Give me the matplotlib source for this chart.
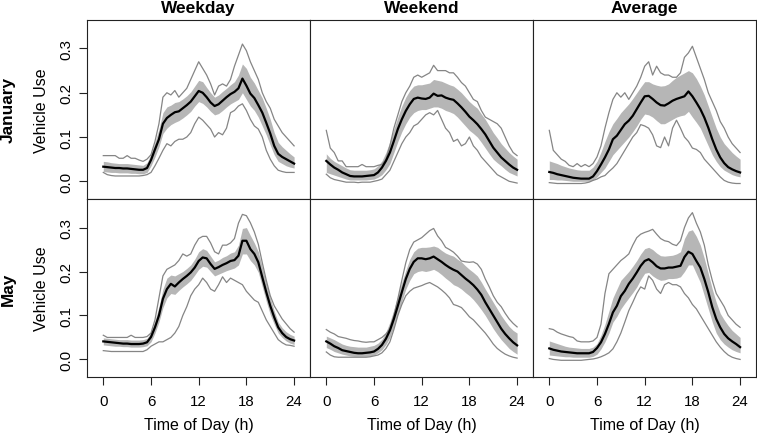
"""Vehicle use by time of day: January / May x weekday / weekend / average."""

import matplotlib
matplotlib.use("Agg")
import matplotlib.pyplot as plt
import numpy as np

plt.rcParams["font.family"] = ["Liberation Sans", "DejaVu Sans"]

BAND = "#b6b6b6"
ENV = "#858585"
INK = "black"

# half-hourly grid, 0 .. 24 h
HOURS = np.arange(49) * 0.5

COLS = ["Weekday", "Weekend", "Average"]
ROWS = ["January", "May"]
XTICKS = [0, 6, 12, 18, 24]
YTICKS = [0.0, 0.1, 0.2, 0.3]

# ---- January, weekday ----
WD_JAN_MEAN = [0.033, 0.032, 0.031, 0.030, 0.030, 0.029, 0.029, 0.028, 0.027, 0.026,
               0.026, 0.030, 0.048, 0.072, 0.095, 0.130, 0.143, 0.150, 0.156, 0.158,
               0.165, 0.172, 0.180, 0.192, 0.204, 0.200, 0.190, 0.178, 0.170, 0.174,
               0.182, 0.190, 0.197, 0.202, 0.210, 0.232, 0.216, 0.198, 0.188, 0.172,
               0.155, 0.132, 0.108, 0.080, 0.062, 0.055, 0.050, 0.045, 0.040]
WD_JAN_UP = [0.045, 0.044, 0.042, 0.041, 0.040, 0.040, 0.040, 0.039, 0.038, 0.037,
             0.036, 0.042, 0.062, 0.088, 0.118, 0.155, 0.168, 0.172, 0.178, 0.180,
             0.186, 0.193, 0.202, 0.215, 0.228, 0.225, 0.212, 0.200, 0.190, 0.195,
             0.203, 0.210, 0.218, 0.225, 0.240, 0.265, 0.255, 0.235, 0.222, 0.205,
             0.188, 0.165, 0.140, 0.110, 0.088, 0.078, 0.070, 0.062, 0.055]
WD_JAN_LO = [0.022, 0.021, 0.020, 0.020, 0.019, 0.019, 0.019, 0.018, 0.018, 0.017,
             0.017, 0.020, 0.035, 0.055, 0.078, 0.108, 0.120, 0.128, 0.133, 0.137,
             0.143, 0.150, 0.158, 0.170, 0.180, 0.176, 0.168, 0.158, 0.150, 0.153,
             0.160, 0.168, 0.175, 0.180, 0.185, 0.200, 0.185, 0.170, 0.160, 0.145,
             0.125, 0.105, 0.082, 0.060, 0.045, 0.040, 0.035, 0.032, 0.030]
WD_JAN_MAX = [0.058, 0.058, 0.058, 0.058, 0.052, 0.052, 0.058, 0.052, 0.052, 0.048,
              0.045, 0.050, 0.060, 0.090, 0.130, 0.190, 0.200, 0.195, 0.205, 0.190,
              0.200, 0.210, 0.230, 0.250, 0.270, 0.255, 0.240, 0.220, 0.195, 0.215,
              0.220, 0.215, 0.230, 0.260, 0.285, 0.310, 0.295, 0.270, 0.250, 0.230,
              0.200, 0.180, 0.165, 0.140, 0.125, 0.110, 0.100, 0.090, 0.080]
WD_JAN_MIN = [0.020, 0.015, 0.013, 0.012, 0.012, 0.012, 0.012, 0.012, 0.012, 0.012,
              0.013, 0.015, 0.020, 0.035, 0.052, 0.070, 0.085, 0.080, 0.090, 0.095,
              0.095, 0.100, 0.110, 0.130, 0.145, 0.138, 0.128, 0.118, 0.100, 0.110,
              0.105, 0.120, 0.155, 0.160, 0.170, 0.175, 0.160, 0.140, 0.125, 0.118,
              0.100, 0.070, 0.050, 0.035, 0.025, 0.022, 0.020, 0.020, 0.020]

# ---- January, weekend ----
WE_JAN_MEAN = [0.046, 0.038, 0.031, 0.026, 0.020, 0.016, 0.012, 0.011, 0.011, 0.011,
               0.012, 0.013, 0.014, 0.020, 0.031, 0.046, 0.065, 0.091, 0.118, 0.140,
               0.159, 0.174, 0.186, 0.189, 0.187, 0.186, 0.189, 0.198, 0.193, 0.194,
               0.189, 0.186, 0.184, 0.176, 0.167, 0.157, 0.146, 0.138, 0.129, 0.118,
               0.106, 0.091, 0.076, 0.065, 0.054, 0.046, 0.038, 0.031, 0.026]
WE_JAN_UP = [0.062, 0.052, 0.045, 0.040, 0.035, 0.030, 0.026, 0.025, 0.025, 0.025,
             0.025, 0.026, 0.028, 0.035, 0.046, 0.065, 0.090, 0.118, 0.145, 0.170,
             0.190, 0.205, 0.215, 0.218, 0.218, 0.220, 0.222, 0.230, 0.228, 0.226,
             0.222, 0.218, 0.215, 0.208, 0.200, 0.190, 0.180, 0.172, 0.165, 0.152,
             0.140, 0.125, 0.110, 0.098, 0.085, 0.075, 0.065, 0.057, 0.050]
WE_JAN_LO = [0.020, 0.017, 0.014, 0.011, 0.008, 0.005, 0.003, 0.003, 0.003, 0.003,
             0.003, 0.004, 0.005, 0.009, 0.015, 0.026, 0.040, 0.065, 0.090, 0.112,
             0.130, 0.145, 0.155, 0.160, 0.162, 0.162, 0.165, 0.168, 0.168, 0.165,
             0.160, 0.157, 0.153, 0.145, 0.135, 0.125, 0.115, 0.108, 0.100, 0.088,
             0.075, 0.062, 0.050, 0.042, 0.035, 0.027, 0.020, 0.016, 0.012]
WE_JAN_MAX = [0.115, 0.075, 0.065, 0.046, 0.046, 0.033, 0.033, 0.033, 0.033, 0.038,
              0.033, 0.033, 0.033, 0.036, 0.038, 0.050, 0.080, 0.120, 0.150, 0.180,
              0.200, 0.215, 0.235, 0.240, 0.235, 0.240, 0.245, 0.262, 0.250, 0.250,
              0.250, 0.245, 0.245, 0.235, 0.223, 0.215, 0.200, 0.185, 0.180, 0.160,
              0.145, 0.140, 0.135, 0.130, 0.120, 0.100, 0.080, 0.065, 0.058]
WE_JAN_MIN = [0.016, 0.008, 0.004, 0.002, 0.000, -0.002, -0.002, -0.002, -0.003, -0.002,
              -0.002, -0.002, 0.000, 0.002, 0.005, 0.015, 0.025, 0.045, 0.065, 0.085,
              0.100, 0.110, 0.125, 0.130, 0.140, 0.150, 0.155, 0.150, 0.160, 0.140,
              0.120, 0.110, 0.090, 0.095, 0.080, 0.085, 0.100, 0.080, 0.070, 0.055,
              0.045, 0.035, 0.025, 0.015, 0.010, 0.005, 0.000, -0.002, -0.004]

# ---- January, average ----
AV_JAN_MEAN = [0.021, 0.019, 0.016, 0.014, 0.012, 0.010, 0.008, 0.007, 0.006, 0.006,
               0.006, 0.011, 0.023, 0.038, 0.054, 0.072, 0.095, 0.103, 0.116, 0.129,
               0.137, 0.148, 0.163, 0.178, 0.192, 0.193, 0.186, 0.178, 0.172, 0.171,
               0.176, 0.182, 0.186, 0.189, 0.192, 0.203, 0.192, 0.178, 0.163, 0.144,
               0.121, 0.095, 0.072, 0.054, 0.041, 0.032, 0.027, 0.023, 0.020]
AV_JAN_UP = [0.046, 0.043, 0.040, 0.036, 0.033, 0.030, 0.028, 0.026, 0.025, 0.025,
             0.025, 0.032, 0.045, 0.066, 0.090, 0.112, 0.130, 0.142, 0.155, 0.165,
             0.175, 0.187, 0.200, 0.213, 0.225, 0.225, 0.220, 0.217, 0.215, 0.216,
             0.220, 0.228, 0.235, 0.240, 0.245, 0.250, 0.245, 0.232, 0.215, 0.195,
             0.170, 0.145, 0.120, 0.100, 0.085, 0.075, 0.065, 0.057, 0.050]
AV_JAN_LO = [0.004, 0.004, 0.003, 0.003, 0.002, 0.001, 0.000, 0.000, 0.000, 0.000,
             0.000, 0.003, 0.010, 0.020, 0.030, 0.045, 0.060, 0.070, 0.080, 0.090,
             0.100, 0.112, 0.125, 0.140, 0.152, 0.150, 0.145, 0.137, 0.130, 0.130,
             0.135, 0.140, 0.145, 0.148, 0.150, 0.158, 0.145, 0.133, 0.120, 0.100,
             0.080, 0.060, 0.045, 0.033, 0.025, 0.020, 0.015, 0.012, 0.010]
AV_JAN_MAX = [0.115, 0.070, 0.060, 0.050, 0.045, 0.036, 0.033, 0.040, 0.033, 0.038,
              0.033, 0.040, 0.055, 0.080, 0.120, 0.155, 0.185, 0.200, 0.190, 0.200,
              0.185, 0.200, 0.215, 0.235, 0.260, 0.270, 0.240, 0.260, 0.245, 0.240,
              0.240, 0.235, 0.235, 0.245, 0.280, 0.290, 0.305, 0.280, 0.255, 0.230,
              0.200, 0.180, 0.160, 0.135, 0.120, 0.100, 0.085, 0.075, 0.065]
AV_JAN_MIN = [-0.003, -0.004, -0.005, -0.005, -0.005, -0.005, -0.005, -0.005, -0.005, -0.004,
              -0.002, 0.002, 0.005, 0.010, 0.013, 0.022, 0.030, 0.040, 0.055, 0.070,
              0.085, 0.100, 0.110, 0.128, 0.125, 0.120, 0.105, 0.080, 0.076, 0.100,
              0.080, 0.120, 0.138, 0.120, 0.100, 0.090, 0.075, 0.072, 0.065, 0.050,
              0.040, 0.030, 0.020, 0.010, 0.002, -0.002, -0.004, -0.005, -0.005]

# ---- May, weekday ----
WD_MAY_MEAN = [0.041, 0.040, 0.039, 0.038, 0.037, 0.036, 0.036, 0.035, 0.035, 0.035,
               0.036, 0.039, 0.051, 0.073, 0.100, 0.138, 0.160, 0.172, 0.166, 0.175,
               0.183, 0.190, 0.198, 0.209, 0.224, 0.232, 0.230, 0.217, 0.206, 0.210,
               0.215, 0.219, 0.224, 0.226, 0.236, 0.270, 0.270, 0.251, 0.240, 0.221,
               0.187, 0.153, 0.122, 0.096, 0.073, 0.060, 0.051, 0.046, 0.043]
WD_MAY_UP = [0.049, 0.048, 0.047, 0.046, 0.045, 0.045, 0.045, 0.044, 0.044, 0.044,
             0.045, 0.048, 0.062, 0.088, 0.120, 0.160, 0.185, 0.192, 0.190, 0.195,
             0.200, 0.207, 0.215, 0.228, 0.245, 0.252, 0.248, 0.235, 0.222, 0.226,
             0.232, 0.236, 0.242, 0.245, 0.260, 0.298, 0.300, 0.282, 0.265, 0.245,
             0.210, 0.175, 0.140, 0.110, 0.085, 0.072, 0.063, 0.057, 0.053]
WD_MAY_LO = [0.033, 0.032, 0.031, 0.030, 0.030, 0.029, 0.029, 0.028, 0.028, 0.028,
             0.029, 0.031, 0.040, 0.060, 0.085, 0.118, 0.140, 0.150, 0.148, 0.157,
             0.165, 0.172, 0.180, 0.192, 0.205, 0.212, 0.210, 0.200, 0.190, 0.194,
             0.198, 0.202, 0.205, 0.208, 0.215, 0.240, 0.240, 0.225, 0.215, 0.198,
             0.165, 0.132, 0.102, 0.080, 0.060, 0.050, 0.042, 0.037, 0.034]
WD_MAY_MAX = [0.055, 0.050, 0.050, 0.050, 0.050, 0.050, 0.050, 0.055, 0.050, 0.050,
              0.050, 0.052, 0.060, 0.090, 0.140, 0.190, 0.205, 0.210, 0.215, 0.225,
              0.240, 0.235, 0.240, 0.260, 0.275, 0.280, 0.280, 0.265, 0.245, 0.240,
              0.260, 0.260, 0.265, 0.275, 0.310, 0.330, 0.327, 0.311, 0.290, 0.262,
              0.220, 0.180, 0.145, 0.122, 0.107, 0.092, 0.081, 0.070, 0.062]
WD_MAY_MIN = [0.020, 0.019, 0.018, 0.018, 0.018, 0.018, 0.018, 0.018, 0.018, 0.018,
              0.018, 0.022, 0.030, 0.035, 0.040, 0.040, 0.045, 0.050, 0.060, 0.075,
              0.100, 0.120, 0.145, 0.160, 0.170, 0.185, 0.175, 0.160, 0.155, 0.170,
              0.188, 0.175, 0.185, 0.180, 0.175, 0.170, 0.155, 0.145, 0.135, 0.130,
              0.110, 0.090, 0.075, 0.060, 0.045, 0.038, 0.033, 0.032, 0.030]

# ---- May, weekend ----
WE_MAY_MEAN = [0.041, 0.036, 0.030, 0.026, 0.021, 0.019, 0.017, 0.015, 0.014, 0.014,
               0.015, 0.016, 0.018, 0.024, 0.033, 0.047, 0.066, 0.092, 0.122, 0.153,
               0.183, 0.206, 0.222, 0.230, 0.230, 0.228, 0.230, 0.234, 0.228, 0.222,
               0.215, 0.209, 0.204, 0.200, 0.192, 0.184, 0.177, 0.169, 0.159, 0.147,
               0.130, 0.115, 0.100, 0.085, 0.070, 0.058, 0.048, 0.039, 0.032]
WE_MAY_UP = [0.053, 0.049, 0.045, 0.040, 0.035, 0.032, 0.030, 0.029, 0.028, 0.028,
             0.028, 0.030, 0.032, 0.037, 0.046, 0.062, 0.085, 0.113, 0.145, 0.175,
             0.203, 0.228, 0.245, 0.253, 0.255, 0.255, 0.256, 0.258, 0.255, 0.248,
             0.242, 0.238, 0.235, 0.228, 0.222, 0.213, 0.205, 0.198, 0.190, 0.176,
             0.160, 0.145, 0.130, 0.115, 0.100, 0.087, 0.075, 0.066, 0.060]
WE_MAY_LO = [0.027, 0.023, 0.018, 0.015, 0.012, 0.010, 0.008, 0.007, 0.007, 0.007,
             0.007, 0.008, 0.010, 0.015, 0.022, 0.034, 0.050, 0.075, 0.103, 0.132,
             0.160, 0.180, 0.195, 0.200, 0.202, 0.200, 0.202, 0.205, 0.200, 0.193,
             0.185, 0.178, 0.170, 0.166, 0.160, 0.152, 0.145, 0.136, 0.125, 0.113,
             0.100, 0.085, 0.070, 0.057, 0.045, 0.035, 0.025, 0.018, 0.012]
WE_MAY_MAX = [0.068, 0.062, 0.058, 0.052, 0.050, 0.048, 0.045, 0.043, 0.042, 0.040,
              0.039, 0.040, 0.040, 0.045, 0.050, 0.058, 0.070, 0.100, 0.138, 0.180,
              0.220, 0.250, 0.267, 0.272, 0.277, 0.285, 0.293, 0.298, 0.281, 0.270,
              0.255, 0.250, 0.244, 0.235, 0.224, 0.222, 0.221, 0.222, 0.217, 0.205,
              0.183, 0.165, 0.145, 0.130, 0.120, 0.105, 0.092, 0.082, 0.074]
WE_MAY_MIN = [0.017, 0.010, 0.006, 0.005, 0.005, 0.005, 0.005, 0.005, 0.005, 0.005,
              0.005, 0.006, 0.008, 0.010, 0.015, 0.025, 0.040, 0.068, 0.100, 0.125,
              0.145, 0.155, 0.162, 0.165, 0.168, 0.172, 0.175, 0.170, 0.165, 0.158,
              0.150, 0.140, 0.125, 0.122, 0.118, 0.108, 0.097, 0.090, 0.080, 0.070,
              0.060, 0.048, 0.035, 0.025, 0.018, 0.012, 0.008, 0.005, 0.003]

# ---- May, average ----
AV_MAY_MEAN = [0.025, 0.022, 0.020, 0.018, 0.017, 0.016, 0.015, 0.014, 0.014, 0.014,
               0.014, 0.017, 0.026, 0.039, 0.058, 0.081, 0.107, 0.122, 0.144, 0.156,
               0.172, 0.184, 0.198, 0.213, 0.224, 0.228, 0.221, 0.212, 0.207, 0.207,
               0.209, 0.209, 0.211, 0.213, 0.233, 0.245, 0.240, 0.224, 0.209, 0.183,
               0.153, 0.119, 0.092, 0.073, 0.058, 0.048, 0.041, 0.035, 0.028]
AV_MAY_UP = [0.042, 0.039, 0.036, 0.033, 0.030, 0.028, 0.027, 0.026, 0.025, 0.025,
             0.025, 0.028, 0.036, 0.055, 0.080, 0.110, 0.140, 0.160, 0.180, 0.190,
             0.200, 0.212, 0.225, 0.240, 0.252, 0.255, 0.250, 0.242, 0.236, 0.235,
             0.236, 0.237, 0.240, 0.245, 0.275, 0.292, 0.295, 0.280, 0.260, 0.230,
             0.195, 0.160, 0.130, 0.105, 0.090, 0.077, 0.066, 0.058, 0.050]
AV_MAY_LO = [0.010, 0.009, 0.008, 0.007, 0.006, 0.006, 0.005, 0.005, 0.005, 0.005,
             0.005, 0.007, 0.012, 0.024, 0.040, 0.060, 0.085, 0.098, 0.115, 0.128,
             0.140, 0.152, 0.165, 0.182, 0.196, 0.198, 0.190, 0.184, 0.180, 0.181,
             0.184, 0.184, 0.185, 0.188, 0.200, 0.215, 0.215, 0.195, 0.175, 0.145,
             0.115, 0.085, 0.060, 0.045, 0.035, 0.028, 0.022, 0.018, 0.015]
AV_MAY_MAX = [0.070, 0.068, 0.062, 0.058, 0.055, 0.052, 0.050, 0.042, 0.040, 0.040,
              0.040, 0.042, 0.050, 0.080, 0.150, 0.195, 0.205, 0.215, 0.225, 0.232,
              0.240, 0.260, 0.277, 0.285, 0.289, 0.292, 0.296, 0.285, 0.275, 0.270,
              0.268, 0.262, 0.259, 0.270, 0.300, 0.322, 0.334, 0.310, 0.290, 0.260,
              0.215, 0.180, 0.150, 0.135, 0.120, 0.100, 0.090, 0.080, 0.073]
AV_MAY_MIN = [0.002, 0.000, -0.001, -0.002, -0.002, -0.002, -0.002, -0.002, -0.002, -0.001,
              0.000, 0.001, 0.003, 0.006, 0.010, 0.015, 0.024, 0.040, 0.060, 0.085,
              0.111, 0.130, 0.150, 0.165, 0.160, 0.190, 0.180, 0.160, 0.150, 0.170,
              0.175, 0.170, 0.170, 0.165, 0.150, 0.140, 0.125, 0.115, 0.100, 0.085,
              0.070, 0.055, 0.040, 0.028, 0.018, 0.010, 0.005, 0.002, 0.000]

PANELS = [
    [(WD_JAN_MEAN, WD_JAN_UP, WD_JAN_LO, WD_JAN_MAX, WD_JAN_MIN),
     (WE_JAN_MEAN, WE_JAN_UP, WE_JAN_LO, WE_JAN_MAX, WE_JAN_MIN),
     (AV_JAN_MEAN, AV_JAN_UP, AV_JAN_LO, AV_JAN_MAX, AV_JAN_MIN)],
    [(WD_MAY_MEAN, WD_MAY_UP, WD_MAY_LO, WD_MAY_MAX, WD_MAY_MIN),
     (WE_MAY_MEAN, WE_MAY_UP, WE_MAY_LO, WE_MAY_MAX, WE_MAY_MIN),
     (AV_MAY_MEAN, AV_MAY_UP, AV_MAY_LO, AV_MAY_MAX, AV_MAY_MIN)],
]

W, H = 757, 435
fig = plt.figure(figsize=(W / 100, H / 100), dpi=100)

col_x = [87, 310, 533]
col_w = 223
row_top = [20.7, 200]
row_h = [179.3, 178]

for r in range(2):
    for c in range(3):
        x0 = col_x[c]
        y_top = row_top[r]
        ax = fig.add_axes([x0 / W, (H - y_top - row_h[r]) / H, col_w / W, row_h[r] / H])
        mean, up, lo, mx, mn = PANELS[r][c]
        ax.fill_between(HOURS, lo, up, color=BAND, lw=0)
        ax.plot(HOURS, mx, color=ENV, lw=0.9)
        ax.plot(HOURS, mn, color=ENV, lw=0.9)
        ax.plot(HOURS, mean, color=INK, lw=1.6)

        ax.set_xlim(-2.05, 26.0)
        ax.set_ylim(-0.04, 0.365)
        for s in ax.spines.values():
            s.set_color("#222222")
            s.set_linewidth(0.8)

        ax.set_xticks(XTICKS)
        ax.set_yticks(YTICKS)
        ax.tick_params(direction="out", length=5.8, width=0.8, color="#222222",
                       labelsize=10.8)
        if r == 1:
            ax.tick_params(axis="x", pad=6.5)
            ax.set_xticklabels([str(t) for t in XTICKS])
        else:
            ax.tick_params(axis="x", bottom=False, labelbottom=False)
        if c == 0:
            ax.set_yticklabels([f"{t:.1f}" for t in YTICKS])
            ax.tick_params(axis="y", pad=4)
            for lab in ax.get_yticklabels():
                lab.set_rotation(90)
                lab.set_va("center")
        else:
            ax.tick_params(axis="y", left=False, labelleft=False)

        if r == 0:
            fig.text((x0 + col_w / 2) / W, (H - 12.7) / H, COLS[c], ha="center",
                     va="baseline", fontsize=12.4, fontweight="bold")
        else:
            fig.text((x0 + col_w / 2) / W, (H - 430.5) / H, "Time of Day (h)",
                     ha="center", va="baseline", fontsize=11.5)

    yc = row_top[r] + row_h[r] / 2
    fig.text(42 / W, (H - yc) / H, "Vehicle Use", rotation=90, ha="center",
             va="center", fontsize=11.5)
    fig.text(8 / W, (H - yc) / H, ROWS[r], rotation=90, ha="center",
             va="center", fontsize=12.4, fontweight="bold")

fig.savefig("out.png", dpi=100, facecolor="white")
